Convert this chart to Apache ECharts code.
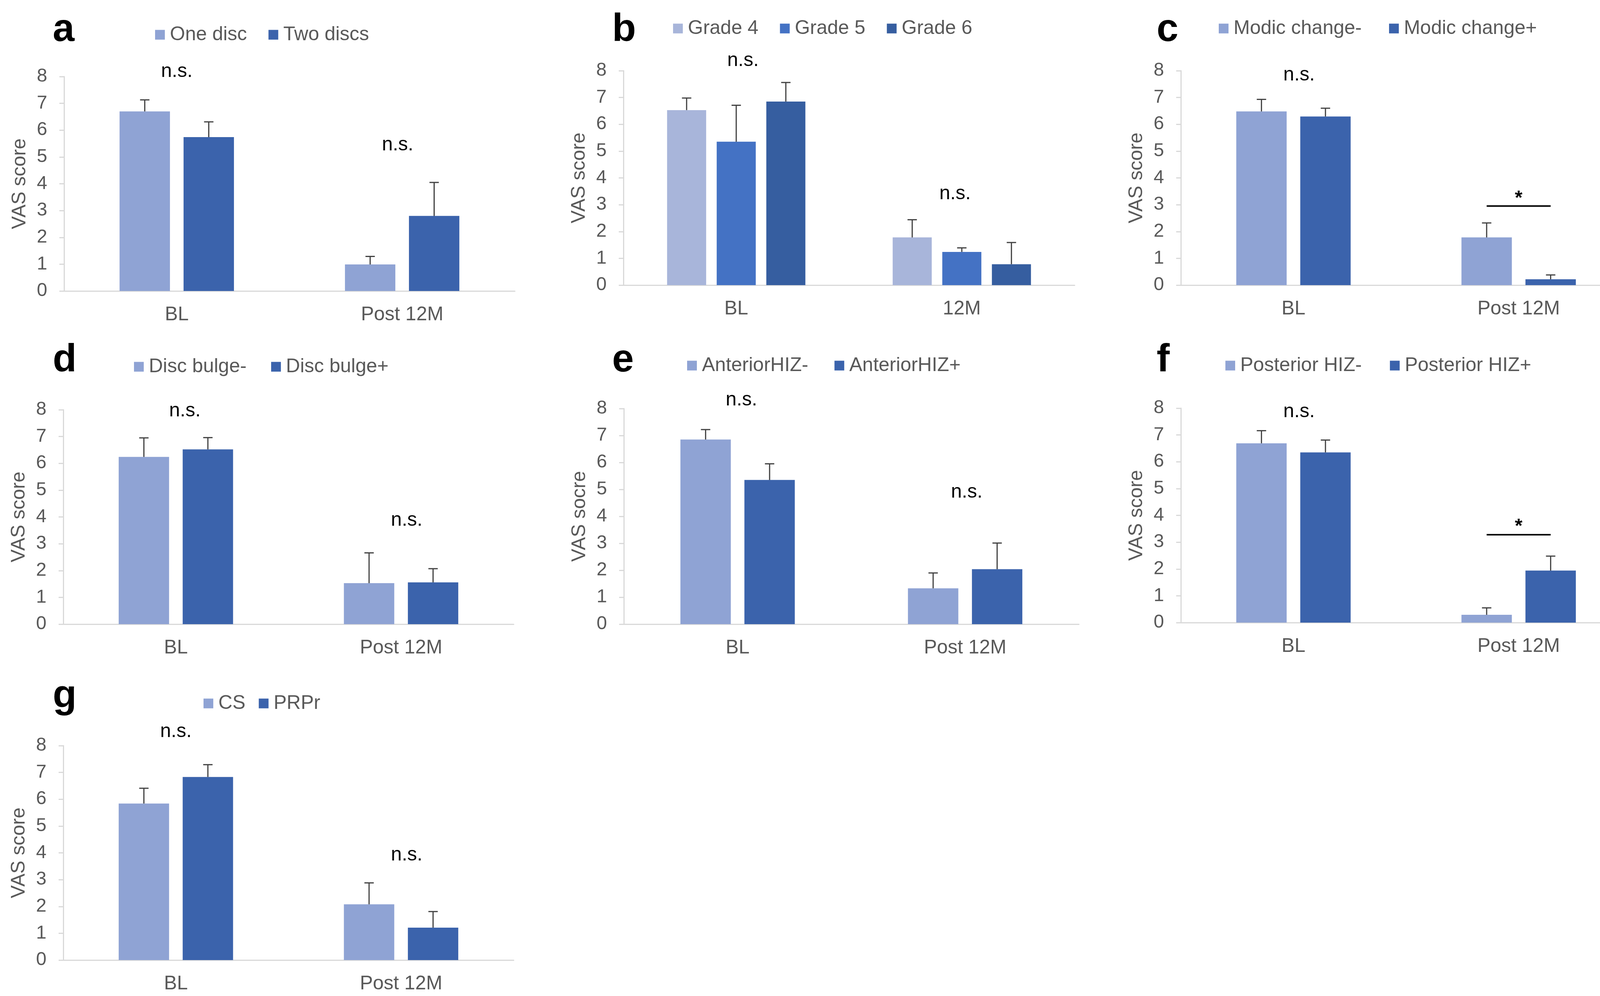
<!DOCTYPE html>
<html><head><meta charset="utf-8">
<script src="https://cdn.jsdelivr.net/npm/echarts@6/dist/echarts.min.js"></script>
<style>html,body{margin:0;padding:0;background:#fff}#c{width:4204px;height:2550px}</style>
</head><body><div id="c"></div>
<script>
// ---------- categories ----------
const catsPost = ['BL', 'Post 12M'];
const cats12 = ['BL', '12M'];
const yTicks = [0, 8, 1]; // min, max, step

// ---------- a ----------
const aOneDisc = [6.70, 0.99];
const aOneDiscErr = [0.43, 0.30];
const aTwoDiscs = [5.74, 2.80];
const aTwoDiscsErr = [0.57, 1.25];
const aNotes = [['n.s.', 0, 8.19, 0], ['n.s.', 1, 5.45, -0.02]];
// ---------- b ----------
const bGrade4 = [6.53, 1.78];
const bGrade4Err = [0.45, 0.66];
const bGrade5 = [5.35, 1.24];
const bGrade5Err = [1.36, 0.15];
const bGrade6 = [6.85, 0.78];
const bGrade6Err = [0.71, 0.81];
const bNotes = [['n.s.', 0, 8.38, 0.03], ['n.s.', 1, 3.41, -0.03]];
// ---------- c ----------
const cModicNeg = [6.48, 1.78];
const cModicNegErr = [0.45, 0.54];
const cModicPos = [6.29, 0.22];
const cModicPosErr = [0.31, 0.16];
const cNotes = [['n.s.', 0, 7.83, 0.025], ['*', 1, 3.22, 0]];
const cSig = [1, 2.95];
// ---------- d ----------
const dBulgeNeg = [6.24, 1.53];
const dBulgeNegErr = [0.71, 1.13];
const dBulgePos = [6.52, 1.56];
const dBulgePosErr = [0.44, 0.51];
const dNotes = [['n.s.', 0, 7.96, 0.04], ['n.s.', 1, 3.88, 0.025]];
// ---------- e ----------
const eAntNeg = [6.85, 1.33];
const eAntNegErr = [0.37, 0.57];
const eAntPos = [5.35, 2.04];
const eAntPosErr = [0.60, 0.97];
const eNotes = [['n.s.', 0, 8.32, 0.017], ['n.s.', 1, 4.89, 0.007]];
// ---------- f ----------
const fPostNeg = [6.69, 0.29];
const fPostNegErr = [0.47, 0.26];
const fPostPos = [6.35, 1.94];
const fPostPosErr = [0.46, 0.54];
const fNotes = [['n.s.', 0, 7.87, 0.025], ['*', 1, 3.56, 0]];
const fSig = [1, 3.28];
// ---------- g ----------
const gCS = [5.84, 2.08];
const gCSErr = [0.57, 0.80];
const gPRPr = [6.83, 1.21];
const gPRPrErr = [0.46, 0.60];
const gNotes = [['n.s.', 0, 8.52, 0], ['n.s.', 1, 3.92, 0.025]];

// ---------- styles ----------
const LIGHT = '#8FA3D4', DARK = '#3B63AC';
const G4 = '#A8B5DA', G5 = '#4472C4', G6 = '#365EA0';
const FONT = '"Liberation Sans", Arial, sans-serif';
const GREY = '#595959', AXIS = '#D9D9D9', ERR = '#404040';

const panels = [
  {id:'a', cats:catsPost, yName:'VAS score', notes:aNotes, sig:null,
   groups:[{name:'One disc', v:aOneDisc, e:aOneDiscErr, c:LIGHT}, {name:'Two discs', v:aTwoDiscs, e:aTwoDiscsErr, c:DARK}]},
  {id:'b', cats:cats12, yName:'VAS score', notes:bNotes, sig:null,
   groups:[{name:'Grade 4', v:bGrade4, e:bGrade4Err, c:G4}, {name:'Grade 5', v:bGrade5, e:bGrade5Err, c:G5}, {name:'Grade 6', v:bGrade6, e:bGrade6Err, c:G6}]},
  {id:'c', cats:catsPost, yName:'VAS score', notes:cNotes, sig:cSig,
   groups:[{name:'Modic change-', v:cModicNeg, e:cModicNegErr, c:LIGHT}, {name:'Modic change+', v:cModicPos, e:cModicPosErr, c:DARK}]},
  {id:'d', cats:catsPost, yName:'VAS score', notes:dNotes, sig:null,
   groups:[{name:'Disc bulge-', v:dBulgeNeg, e:dBulgeNegErr, c:LIGHT}, {name:'Disc bulge+', v:dBulgePos, e:dBulgePosErr, c:DARK}]},
  {id:'e', cats:catsPost, yName:'VAS socre', notes:eNotes, sig:null,
   groups:[{name:'AnteriorHIZ-', v:eAntNeg, e:eAntNegErr, c:LIGHT}, {name:'AnteriorHIZ+', v:eAntPos, e:eAntPosErr, c:DARK}]},
  {id:'f', cats:catsPost, yName:'VAS score', notes:fNotes, sig:fSig,
   groups:[{name:'Posterior HIZ-', v:fPostNeg, e:fPostNegErr, c:LIGHT}, {name:'Posterior HIZ+', v:fPostPos, e:fPostPosErr, c:DARK}]},
  {id:'g', cats:catsPost, yName:'VAS score', notes:gNotes, sig:null,
   groups:[{name:'CS', v:gCS, e:gCSErr, c:LIGHT}, {name:'PRPr', v:gPRPr, e:gPRPrErr, c:DARK}]}
];

// layout: grid [x0, y0, x1, y1], legend [left, top, gap], letter [x, y]
const layout = {
  a:{g:[164,196,1318,745],   lg:[397,64,55],   lt:[135,77]},
  b:{g:[1596,181,2751,730],  lg:[1723,48,55],  lt:[1567,77]},
  c:{g:[3023,181,4176,730],  lg:[3120,48,70],  lt:[2961,77]},
  d:{g:[162,1049,1315,1598], lg:[343,914,63],  lt:[135,923]},
  e:{g:[1597,1046,2762,1598],lg:[1759,911,67], lt:[1567,923]},
  f:{g:[3023,1045,4176,1594],lg:[3137,911,72], lt:[2961,923]},
  g:{g:[162,1909,1315,2458], lg:[521,1776,34], lt:[135,1783]}
};

const grids = [], xAxes = [], yAxes = [], series = [], legends = [], graphics = [];
const GAPR = 0.27;

panels.forEach((p, i) => {
  const L = layout[p.id];
  grids.push({left:L.g[0], top:L.g[1], width:L.g[2]-L.g[0], height:L.g[3]-L.g[1], containLabel:false});
  xAxes.push({type:'category', gridIndex:i, data:p.cats,
    axisTick:{show:false}, axisLine:{show:true, lineStyle:{color:AXIS, width:3}},
    axisLabel:{fontSize:50, color:GREY, margin:36, fontFamily:FONT}});
  yAxes.push({type:'value', gridIndex:i, min:yTicks[0], max:yTicks[1], interval:yTicks[2],
    name:p.yName, nameLocation:'middle', nameGap:88,
    nameTextStyle:{fontSize:50, color:GREY, fontFamily:FONT},
    axisLine:{show:true, lineStyle:{color:AXIS, width:3}},
    axisTick:{show:true, length:12, lineStyle:{color:AXIS, width:3}},
    splitLine:{show:false},
    axisLabel:{fontSize:48, color:GREY, margin:43, fontFamily:FONT}});
  const n = p.groups.length;
  const bw = n === 3 ? 100 : 129;
  const total = n*bw + (n-1)*bw*GAPR;
  const off = gi => -total/2 + bw/2 + gi*bw*(1+GAPR);
  p.groups.forEach((g, gi) => {
    series.push({type:'bar', name:g.name, xAxisIndex:i, yAxisIndex:i, data:g.v,
      barWidth:bw, barGap:(GAPR*100)+'%', itemStyle:{color:g.c}, animation:false, silent:true});
    series.push({type:'custom', xAxisIndex:i, yAxisIndex:i, z:5, animation:false, silent:true,
      data:g.v.map((v,k)=>[k, v, v + g.e[k]]),
      renderItem:(params, api) => {
        const b = api.coord([api.value(0), api.value(1)]);
        const t = api.coord([api.value(0), api.value(2)]);
        const x = b[0] + off(gi);
        return {type:'group', children:[
          {type:'line', shape:{x1:x, y1:b[1], x2:x, y2:t[1]}, style:{stroke:ERR, lineWidth:3}},
          {type:'line', shape:{x1:x-12, y1:t[1], x2:x+12, y2:t[1]}, style:{stroke:ERR, lineWidth:3}}
        ]};
      }});
  });
  // annotations
  series.push({type:'custom', xAxisIndex:i, yAxisIndex:i, z:6, animation:false, silent:true,
    data:p.notes.map(nt => [nt[1], nt[2], nt[3]]),
    renderItem:(params, api) => {
      const c = api.coord([api.value(0), api.value(1)]);
      const w = api.size([1, 0])[0];
      const txt = p.notes[params.dataIndex][0];
      return {type:'text', x:c[0] + api.value(2)*w, y:c[1],
        style:{text:txt, fill:'#000', fontSize:50, fontFamily:FONT,
          fontWeight: txt === '*' ? 'bold' : 'normal',
          align:'center', verticalAlign:'middle', textAlign:'center', textVerticalAlign:'middle'}};
    }});
  if (p.sig) {
    series.push({type:'custom', xAxisIndex:i, yAxisIndex:i, z:6, animation:false, silent:true,
      data:[p.sig],
      renderItem:(params, api) => {
        const c = api.coord([api.value(0), api.value(1)]);
        return {type:'line', shape:{x1:c[0]+off(0), y1:c[1], x2:c[0]+off(1), y2:c[1]},
          style:{stroke:'#000', lineWidth:4}};
      }});
  }
  legends.push({left:L.lg[0], top:L.lg[1], itemGap:L.lg[2], padding:0, orient:'horizontal',
    icon:'rect', itemWidth:25, itemHeight:25, selectedMode:false,
    data:p.groups.map(g => g.name),
    textStyle:{fontSize:50, color:GREY, fontFamily:FONT, padding:[0,0,0,8]}});
  graphics.push({type:'text', x:L.lt[0], y:L.lt[1],
    style:{text:p.id, fill:'#000', fontSize:100, fontWeight:'bold', fontFamily:FONT,
      align:'left', verticalAlign:'middle', textAlign:'left', textVerticalAlign:'middle'}});
});

const chart = echarts.init(document.getElementById('c'), null, {renderer:'canvas', width:4204, height:2550, devicePixelRatio:1});
chart.setOption({
  animation:false,
  backgroundColor:'#ffffff',
  textStyle:{fontFamily:FONT},
  grid:grids, xAxis:xAxes, yAxis:yAxes, series:series, legend:legends, graphic:graphics
});
</script></body></html>
